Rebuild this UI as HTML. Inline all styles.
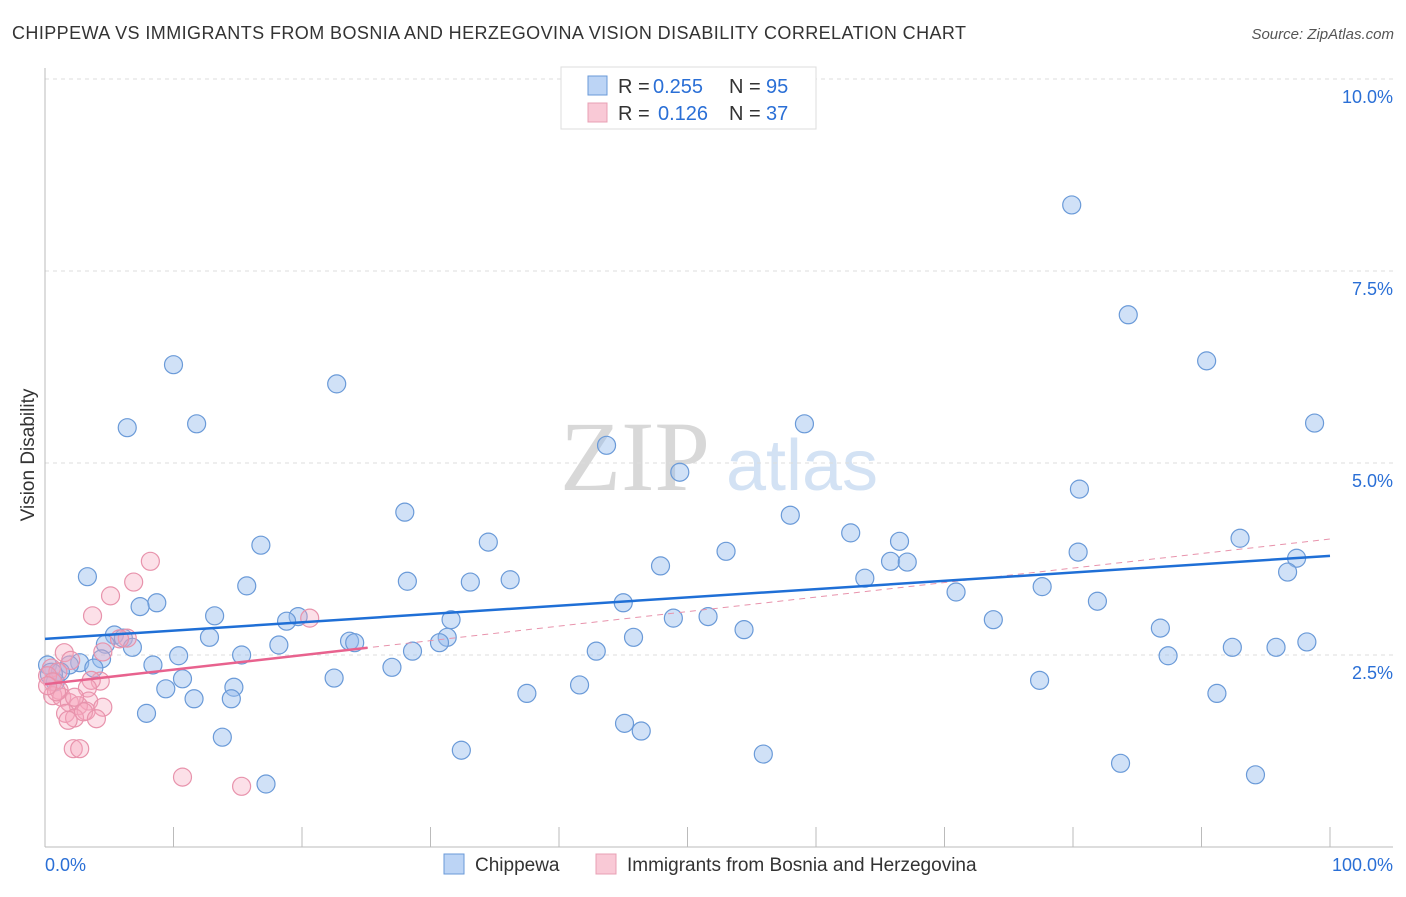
<!DOCTYPE html>
<html><head><meta charset="utf-8"><style>
body{margin:0;background:#fff;font-family:"Liberation Sans",sans-serif;}
</style></head><body>
<svg id="c" width="1406" height="892" xmlns="http://www.w3.org/2000/svg" font-family="Liberation Sans, sans-serif">
<text x="12" y="39" font-size="18" fill="#333" textLength="954" lengthAdjust="spacing">CHIPPEWA VS IMMIGRANTS FROM BOSNIA AND HERZEGOVINA VISION DISABILITY CORRELATION CHART</text>
<text x="1394" y="39" font-size="15" fill="#555" font-style="italic" text-anchor="end">Source: ZipAtlas.com</text>
<g><text x="635" y="490" font-size="100" fill="#d8d8d8" font-family="Liberation Serif, serif" text-anchor="middle">ZIP</text><text x="802" y="490" font-size="72" fill="#d3e2f4" text-anchor="middle">atlas</text></g>
<g id="grid"></g><g id="axes"></g><g id="pts"></g><g id="lines"></g>
<text x="34" y="455" font-size="19" fill="#333" transform="rotate(-90 34 455)" text-anchor="middle">Vision Disability</text>
<g>
<rect x="561" y="67" width="255" height="62" fill="#fff" stroke="#ddd"/>
<rect x="588" y="76" width="19" height="19" fill="#bcd4f5" stroke="#6a9ad8"/>
<rect x="588" y="103" width="19" height="19" fill="#f9c9d6" stroke="#e8a0b4"/>
<text x="618" y="93" font-size="20" fill="#333">R =</text><text x="653" y="93" font-size="20" fill="#2a6fd6">0.255</text>
<text x="729" y="93" font-size="20" fill="#333">N =</text><text x="766" y="93" font-size="20" fill="#2a6fd6">95</text>
<text x="618" y="120" font-size="20" fill="#333">R =</text><text x="658" y="120" font-size="20" fill="#2a6fd6">0.126</text>
<text x="729" y="120" font-size="20" fill="#333">N =</text><text x="766" y="120" font-size="20" fill="#2a6fd6">37</text>
</g>
<g>
<rect x="444" y="854" width="20" height="20" fill="#bcd4f5" stroke="#6a9ad8"/>
<text x="475" y="871" font-size="19" fill="#333">Chippewa</text>
<rect x="596" y="854" width="20" height="20" fill="#f9c9d6" stroke="#e8a0b4"/>
<text x="627" y="871" font-size="19" fill="#333">Immigrants from Bosnia and Herzegovina</text>
</g>
<text x="45" y="871" font-size="18" fill="#2a6fd6">0.0%</text>
<text x="1393" y="871" font-size="18" fill="#2a6fd6" text-anchor="end">100.0%</text>
</svg>
<script>
const yTicks=[2.5,5.0,7.5,10.0];
const xTicks=[0,10,20,30,40,50,60,70,80,90,100];
const blueX=[79.9,84.3,90.4,98.8,10.0,22.7,6.4,11.8,59.1,43.7,49.4,80.5,28.0,58.0,62.7,16.8,34.5,66.5,93.0,53.0,80.4,97.4,65.8,67.1,47.9,96.7,3.3,15.7,28.2,33.1,36.2,63.8,77.6,70.9,8.7,7.4,81.9,45.0,13.2,19.7,18.8,31.6,48.9,51.6,73.8,86.8,54.4,12.8,5.4,6.1,45.8,23.7,24.1,31.3,30.7,18.2,4.7,6.8,98.2,92.4,95.8,28.6,42.9,10.4,15.3,87.4,4.4,2.7,1.9,3.8,8.4,27.0,0.2,1.2,10.7,22.5,0.8,77.4,41.6,9.4,14.7,37.5,91.2,11.6,14.5,7.9,45.1,46.4,13.8,32.4,55.9,83.7,94.2,17.2,0.5];
const blueY=[8.36,6.93,6.33,5.52,6.28,6.03,5.46,5.51,5.51,5.23,4.88,4.66,4.36,4.32,4.09,3.93,3.97,3.98,4.02,3.85,3.84,3.76,3.72,3.71,3.66,3.58,3.52,3.40,3.46,3.45,3.48,3.50,3.39,3.32,3.18,3.13,3.20,3.18,3.01,3.00,2.94,2.96,2.98,3.00,2.96,2.85,2.83,2.73,2.76,2.72,2.73,2.68,2.66,2.73,2.66,2.63,2.64,2.60,2.67,2.60,2.60,2.55,2.55,2.49,2.50,2.49,2.45,2.40,2.37,2.33,2.37,2.34,2.37,2.28,2.19,2.20,2.15,2.17,2.11,2.06,2.08,2.00,2.00,1.93,1.93,1.74,1.61,1.51,1.43,1.26,1.21,1.09,0.94,0.82,2.25];
const pinkX=[8.2,6.9,5.1,3.7,20.6,6.4,5.8,4.5,1.5,2.0,0.5,1.0,0.2,0.6,4.3,3.6,1.1,3.3,0.6,1.3,1.9,3.4,2.6,3.2,4.5,1.6,2.3,3.0,4.0,1.8,2.2,2.7,10.7,15.3,0.9,0.2,2.3];
const pinkY=[3.72,3.45,3.27,3.01,2.98,2.72,2.71,2.54,2.53,2.43,2.33,2.28,2.23,2.15,2.16,2.17,2.04,2.07,1.97,1.95,1.88,1.90,1.84,1.77,1.82,1.74,1.68,1.76,1.67,1.65,1.28,1.28,0.91,0.79,2.02,2.10,1.95];
const blueLine=[2.71,3.79];
const pinkLine=[2.12,4.01];
const pinkSolidEnd=25.1;
const NS='http://www.w3.org/2000/svg';
const X=v=>45+v*12.85, Y=v=>847-v*76.8;
function mk(p,t,a){const e=document.createElementNS(NS,t);for(const k in a)e.setAttribute(k,a[k]);p.appendChild(e);return e;}
const grid=document.getElementById('grid'),axes=document.getElementById('axes'),pts=document.getElementById('pts'),lines=document.getElementById('lines');
yTicks.forEach(t=>{const g=mk(grid,'line',{x1:45,x2:1393,y1:Y(t),y2:Y(t),stroke:'#ddd','stroke-dasharray':'4 4'});


const l=mk(grid,'text',{x:1393,y:Y(t)+24,'font-size':18,fill:'#2a6fd6','text-anchor':'end'});l.textContent=t.toFixed(1)+'%';

});
const ya=mk(axes,'line',{x1:45,x2:45,y1:68,y2:847,stroke:'#bbb'});


const xa=mk(axes,'line',{x1:45,x2:1393,y1:847,y2:847,stroke:'#bbb'});


xTicks.forEach(t=>{const e=mk(axes,'line',{x1:X(t),x2:X(t),y1:827,y2:847,stroke:'#bbb'});

});
blueX.forEach((x,i)=>{const c=mk(pts,'circle',{cx:X(x),cy:Y(blueY[i]),r:i==blueX.length-1?11:9,fill:'rgba(150,188,238,0.45)',stroke:'#6a9ad8','stroke-width':1.2});

});
pinkX.forEach((x,i)=>{const c=mk(pts,'circle',{cx:X(x),cy:Y(pinkY[i]),r:9,fill:'rgba(245,165,188,0.35)',stroke:'#e893ac','stroke-width':1.2});

});
const pd=mk(lines,'line',{x1:X(0),y1:Y(pinkLine[0]),x2:X(100),y2:Y(pinkLine[1]),stroke:'#e893ac','stroke-dasharray':'6 5','stroke-width':1});


const bl=mk(lines,'line',{x1:X(0),y1:Y(blueLine[0]),x2:X(100),y2:Y(blueLine[1]),stroke:'#1f6fd6','stroke-width':2.5});


const ps=mk(lines,'line',{x1:X(0),y1:Y(pinkLine[0]),x2:X(pinkSolidEnd),y2:Y(pinkLine[0]+(pinkLine[1]-pinkLine[0])*pinkSolidEnd/100),stroke:'#e8628e','stroke-width':2.5});


</script>
</body></html>
